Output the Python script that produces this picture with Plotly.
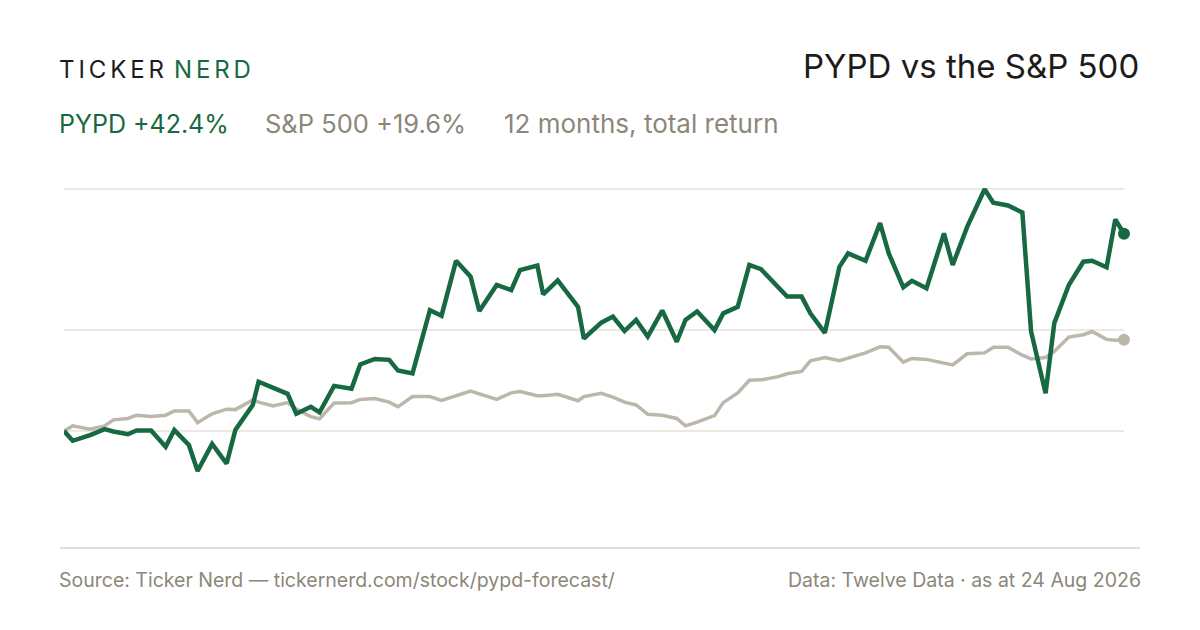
import pandas as pd
import plotly.graph_objects as go

# days since the start of the 12 month window (2025-08-24)
day_offset = [0, 3, 9, 14, 17, 22, 25, 30, 35, 38, 43, 46, 51, 56, 59, 65, 67, 72, 77, 80,
              85, 88, 93, 99, 102, 107, 112, 115, 120, 126, 130, 135, 140, 143, 149, 154, 157, 163, 165, 170,
              177, 179, 185, 189, 193, 197, 201, 206, 211, 214, 218, 224, 227, 232, 236, 240, 246, 249, 254, 257,
              262, 267, 270, 276, 281, 284, 289, 292, 297, 303, 306, 311, 317, 320, 325, 330, 333, 338, 341, 346,
              351, 354, 359, 362, 365]

# total return in %
pypd_ret = [0.0, -2.1, -0.9, 0.4, -0.1, -0.7, 0.1, 0.1, -3.4, 0.2, -3.0, -8.6, -2.8, -7.0, 0.2, 5.6, 10.6, 9.3, 8.0, 3.7,
            5.2, 4.0, 9.7, 9.1, 14.3, 15.5, 15.3, 13.0, 12.4, 26.0, 24.8, 36.6, 33.2, 25.8, 31.4, 30.3, 34.6, 35.6, 29.4, 32.4,
            26.7, 19.9, 23.3, 24.6, 21.5, 23.9, 20.3, 25.9, 19.2, 23.9, 25.7, 21.7, 25.3, 26.7, 35.7, 34.8, 30.9, 28.9, 28.9, 25.3,
            21.1, 35.3, 38.2, 36.6, 44.7, 38.2, 30.9, 32.3, 30.7, 42.5, 35.7, 43.9, 52.0, 49.1, 48.5, 47.0, 21.4, 8.1, 23.2, 31.4,
            36.4, 36.6, 35.2, 45.5, 42.4]

spx_ret = [0.0, 1.1, 0.4, 1.1, 2.4, 2.7, 3.4, 3.1, 3.4, 4.3, 4.3, 1.8, 3.7, 4.7, 4.6, 6.7, 6.2, 5.4, 6.1, 4.7,
           3.1, 2.6, 6.0, 6.1, 6.8, 7.0, 6.2, 5.2, 7.4, 7.4, 6.6, 7.7, 8.6, 8.0, 6.8, 8.2, 8.5, 7.6, 7.6, 7.9,
           6.5, 7.4, 8.1, 7.3, 6.2, 5.6, 3.6, 3.4, 2.7, 1.1, 1.9, 3.3, 6.1, 8.2, 10.9, 11.0, 11.7, 12.3, 12.8, 15.1,
           15.8, 15.1, 15.7, 16.8, 18.1, 18.0, 14.8, 15.6, 15.4, 14.6, 14.2, 16.6, 16.8, 18.0, 18.0, 16.3, 15.5, 15.8, 17.1, 20.2,
           20.7, 21.4, 19.7, 19.5, 19.6]

grid_vals = [0, 21.7, 52]

GREEN = "#176942"
SAND = "#bdb6ab"
MUTED = "#8c8778"
INK = "#1c1c1c"
FONT = "Inter"

dates = pd.Timestamp("2025-08-24") + pd.to_timedelta(day_offset, unit="D")

fig = go.Figure()

fig.add_trace(go.Scatter(x=dates, y=spx_ret, mode="lines",
                         line=dict(color=SAND, width=3.5), hoverinfo="skip"))
fig.add_trace(go.Scatter(x=dates[-1:], y=spx_ret[-1:], mode="markers",
                         marker=dict(color=SAND, size=12), cliponaxis=False, hoverinfo="skip"))
fig.add_trace(go.Scatter(x=dates, y=pypd_ret, mode="lines",
                         line=dict(color=GREEN, width=4.5), hoverinfo="skip"))
fig.add_trace(go.Scatter(x=dates[-1:], y=pypd_ret[-1:], mode="markers",
                         marker=dict(color=GREEN, size=12), cliponaxis=False, hoverinfo="skip"))

# the page adds an 8px body margin, so target pixels are shifted back by it
OFF = 8
# plot area in page pixels: x 64..1124, y 175..530
L, R, T, B = 64 - OFF, 1124 - OFF, 175 - OFF, 530 - OFF


def px(x):
    return (x - OFF - L) / (R - L)


def py(y):
    return (B - (y - OFF)) / (B - T)


annos = [
    dict(x=px(57), y=py(70), xanchor="left", yanchor="middle",
         text=f"<span style='letter-spacing:3.9px'><span style='color:{INK}'>TICKER</span>"
              f"<span style='color:{GREEN}'>\u200aNERD</span></span>",
         font=dict(size=24, family=FONT)),
    dict(x=px(1141), y=py(66), xanchor="right", yanchor="middle",
         text="PYPD vs the S&P 500", font=dict(size=33, family=FONT, color=INK)),
    dict(x=px(57), y=py(124), xanchor="left", yanchor="middle",
         text="PYPD +42.4%", font=dict(size=25, family=FONT, color=GREEN)),
    dict(x=px(263), y=py(124), xanchor="left", yanchor="middle",
         text="S&P 500 +19.6%", font=dict(size=25.5, family=FONT, color=MUTED)),
    dict(x=px(502), y=py(124), xanchor="left", yanchor="middle",
         text="12 months, total return", font=dict(size=26, family=FONT, color=MUTED)),
    dict(x=px(57), y=py(580), xanchor="left", yanchor="middle",
         text="Source: Ticker Nerd — tickernerd.com/stock/pypd-forecast/",
         font=dict(size=19.5, family=FONT, color=MUTED)),
    dict(x=px(1143), y=py(580), xanchor="right", yanchor="middle",
         text="Data: Twelve Data · as at 24 Aug 2026",
         font=dict(size=19.5, family=FONT, color=MUTED)),
]
for a in annos:
    a.update(xref="paper", yref="paper", showarrow=False)

fig.update_layout(
    width=1200, height=630,
    margin=dict(l=L, r=1200 - R, t=T, b=630 - B, pad=0),
    paper_bgcolor="white", plot_bgcolor="white",
    showlegend=False,
    annotations=annos,
    shapes=[dict(type="line", xref="paper", yref="paper",
                 x0=px(60), x1=px(1140), y0=py(548), y1=py(548),
                 line=dict(color="#e2ded5", width=2))],
    xaxis=dict(range=[dates[0], dates[-1]], showgrid=False, zeroline=False,
               showticklabels=False, ticks="", showline=False, fixedrange=True),
    yaxis=dict(range=[(431 - 530) / 4.65, (431 - 175) / 4.65], tickvals=grid_vals,
               showgrid=True, gridcolor="#ece9e3", gridwidth=1.5, zeroline=False,
               showticklabels=False, ticks="", showline=False, fixedrange=True),
)

fig.write_html("out.html", config={"displayModeBar": False})
